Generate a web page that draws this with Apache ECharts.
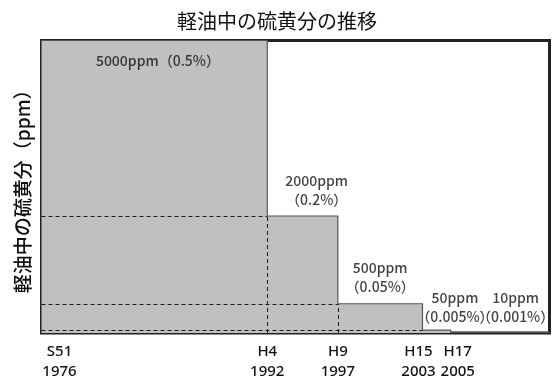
<!DOCTYPE html>
<html>
<head>
<meta charset="utf-8">
<script src="https://cdn.jsdelivr.net/npm/echarts@6/dist/echarts.min.js"></script>
<style>
  html, body { margin: 0; padding: 0; background: #fff; }
  #chart { width: 554px; height: 385px; }
</style>
</head>
<body>
<div id="chart"></div>
<script>
// Regulation years, era names and sulfur limits in diesel fuel (ppm)
const years = [1976, 1992, 1997, 2003, 2005];
const eras = ['S51', 'H4', 'H9', 'H15', 'H17'];
const sulfurPpm = [5000, 2000, 500, 50, 10];
const axisEndYear = 2012;

// Where each level's annotation sits, in axis units (year, ppm)
const labelAnchorYear = [1984.25, 1995.5, 2000.0, 2005.3, 2009.6];
const labelAnchorPpm = [4650, 2440, 950, 436, 436];

const CJK = '"Noto Sans CJK JP", "Noto Sans", sans-serif';
const INK = '#111';

// step outline: each limit holds until the next regulation year
const stepData = years.map((y, i) => [y, sulfurPpm[i]]);
stepData.push([axisEndYear, sulfurPpm[sulfurPpm.length - 1]]);

// dashed guides: each later level back to the left edge, earlier steps down to zero
const guides = [];
for (let i = 1; i <= 3; i++) {
  guides.push([{ coord: [years[0], sulfurPpm[i]] }, { coord: [years[i], sulfurPpm[i]] }]);
}
for (let i = 1; i <= 2; i++) {
  guides.push([{ coord: [years[i], 0] }, { coord: [years[i], sulfurPpm[i]] }]);
}

function pctText(v) { return (v / 10000) + '%'; }

const labelData = labelAnchorYear.map((x, i) => ({
  value: [x, labelAnchorPpm[i]],
  ppm: sulfurPpm[i]
}));

// two-line tick labels (era / year); a little side padding keeps the
// crowded 2003 / 2005 pair apart and sets S51 in from the left border
const tickRich = {};
const tickPad = [[0, 0, 0, 36], [0, 0, 0, 0], [0, 0, 0, 0], [0, 8, 0, 0], [0, 0, 0, 14]];
tickPad.forEach((p, i) => {
  tickRich['e' + i] = {
    fontFamily: '"Noto Sans", sans-serif', fontSize: 15, lineHeight: 20,
    fontWeight: 500, color: INK, padding: p
  };
});

// neighbouring ticks go on separate (overlaid) axes so none gets dropped
function tickAxis(idx) {
  return {
    type: 'value',
    position: 'bottom',
    min: years[0],
    max: axisEndYear,
    axisLine: { show: false },
    axisTick: { show: false },
    splitLine: { show: false },
    axisLabel: {
      customValues: idx.map(i => years[i]),
      hideOverlap: false,
      margin: 9,
      formatter: function (value) {
        const i = years.indexOf(value);
        if (i < 0) return '';
        return '{e' + i + '|' + eras[i] + '}\n{e' + i + '|' + value + '}';
      },
      rich: tickRich
    }
  };
}
const evenIdx = years.map((_, i) => i).filter(i => i % 2 === 0);
const oddIdx = years.map((_, i) => i).filter(i => i % 2 === 1);

const chart = echarts.init(document.getElementById('chart'), null, { renderer: 'canvas' });
chart.setOption({
  animation: false,
  backgroundColor: '#fff',
  title: {
    text: '軽油中の硫黄分の推移',
    left: 'center',
    top: 6,
    textStyle: { fontFamily: CJK, fontSize: 20, fontWeight: 'normal', color: INK }
  },
  grid: {
    left: 41.5, right: 4.5, top: 40.5, bottom: 52,
    show: true, borderColor: '#222', borderWidth: 3, backgroundColor: 'transparent'
  },
  xAxis: [tickAxis(evenIdx), tickAxis(oddIdx)],
  yAxis: {
    type: 'value',
    min: 0,
    max: sulfurPpm[0],
    name: '軽油中の硫黄分（ppm）',
    nameLocation: 'middle',
    nameRotate: 90,
    nameGap: 9,
    nameTextStyle: { fontFamily: CJK, fontSize: 19, fontWeight: 500, color: INK },
    axisLine: { show: false },
    axisTick: { show: false },
    axisLabel: { show: false },
    splitLine: { show: false }
  },
  series: [
    {
      type: 'line',
      step: 'end',
      data: stepData,
      symbol: 'none',
      lineStyle: { color: '#555', width: 1.2 },
      areaStyle: { color: '#c0c0c0', opacity: 1 },
      z: 2,
      markLine: {
        silent: true,
        symbol: ['none', 'none'],
        label: { show: false },
        lineStyle: { type: [4, 3], color: '#1a1a1a', width: 1 },
        data: guides
      }
    },
    {
      type: 'scatter',
      data: labelData,
      symbolSize: 1,
      itemStyle: { color: 'rgba(0,0,0,0)' },
      z: 5,
      label: {
        show: true,
        position: 'inside',
        fontFamily: CJK,
        fontSize: 14,
        fontWeight: 500,
        lineHeight: 19,
        color: INK,
        formatter: function (p) {
          const v = p.data.ppm;
          const sep = p.dataIndex === 0 ? '' : '\n';
          return v + 'ppm' + sep + '（' + pctText(v) + '）';
        }
      }
    }
  ]
});
</script>
</body>
</html>
